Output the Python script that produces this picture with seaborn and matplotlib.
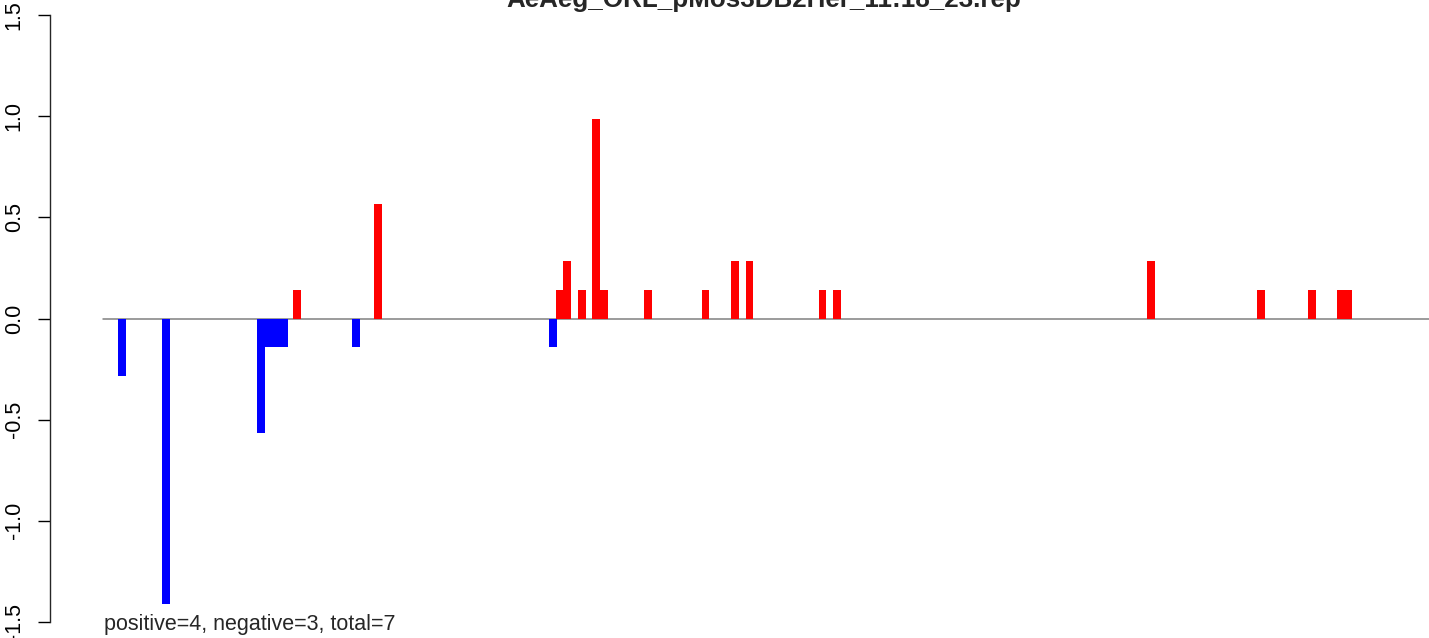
import numpy as np
import pandas as pd
import matplotlib
matplotlib.use("Agg")
import matplotlib.pyplot as plt
import seaborn as sns

# bar positions (bin units along the sequence) and signed scores
neg_pos = [2.5, 8.3, 20.8, 21.8, 22.8, 23.8, 33.3, 59.2]
neg_val = [-0.282, -1.41, -0.564, -0.141, -0.141, -0.141, -0.141, -0.141]
pos_pos = [25.5, 36.2, 60.1, 61.1, 63.0, 64.9, 65.9, 71.7, 79.3, 83.2, 85.1,
           94.7, 96.6, 137.9, 152.4, 159.1, 162.9, 163.9]
pos_val = [0.141, 0.564, 0.141, 0.282, 0.141, 0.987, 0.141, 0.141, 0.141, 0.282, 0.282,
           0.141, 0.141, 0.282, 0.141, 0.141, 0.141, 0.141]

baseline_x = [0, 174.5]
yticks = [-1.5, -1.0, -0.5, 0.0, 0.5, 1.0, 1.5]
title = "AeAeg_ORL_pMos3DB2Her_11:18_23.rep"
note = "positive=4, negative=3, total=7"

df = pd.DataFrame({
    "pos": neg_pos + pos_pos,
    "score": neg_val + pos_val,
    "strand": ["neg"] * len(neg_pos) + ["pos"] * len(pos_pos),
})

sns.set_style("ticks")
plt.rcParams["font.family"] = ["Liberation Sans", "DejaVu Sans"]

fig = plt.figure(figsize=(14.29, 6.38), dpi=100)
ax = fig.add_axes([50 / 1429, 16 / 638, 1379 / 1429, 607 / 638])

# zero line under the bars
ax.plot(baseline_x, [0, 0], color="#808080", lw=1.1, zorder=0)

# bar width of one bin, seaborn scales width by the smallest gap between positions
bar_w = 1.0
min_gap = np.diff(np.sort(df["pos"].unique())).min()
sns.barplot(data=df, x="pos", y="score", hue="strand", native_scale=True,
            palette={"neg": "#0000FF", "pos": "#FF0000"}, saturation=1,
            width=bar_w / min_gap, dodge=False, errorbar=None, linewidth=0,
            legend=False, ax=ax, zorder=2)

ax.set_xlim(-6.97, 174.5)
ax.set_ylim(-1.5, 1.5)
ax.set_xlabel("")
ax.set_ylabel("")
ax.set_xticks([])
for s in ["top", "right", "bottom"]:
    ax.spines[s].set_visible(False)
ax.spines["left"].set_linewidth(1.0)
ax.spines["left"].set_bounds(-1.5, 1.5)

ax.set_yticks(yticks)
ax.set_yticklabels([f"{t:.1f}" for t in yticks])
ax.tick_params(axis="y", length=8.6, width=1.0, pad=9.5, labelsize=15.5,
               labelrotation=90, colors="black")
for lab in ax.get_yticklabels():
    lab.set_va("center")

fig.text(764 / 1429, 1 - 7 / 638, title, ha="center", va="baseline",
         fontsize=18.7, fontweight="bold")
fig.text(104 / 1429, 1 - 630 / 638, note, ha="left", va="baseline", fontsize=15.5)

fig.savefig("out.png", dpi=100)
